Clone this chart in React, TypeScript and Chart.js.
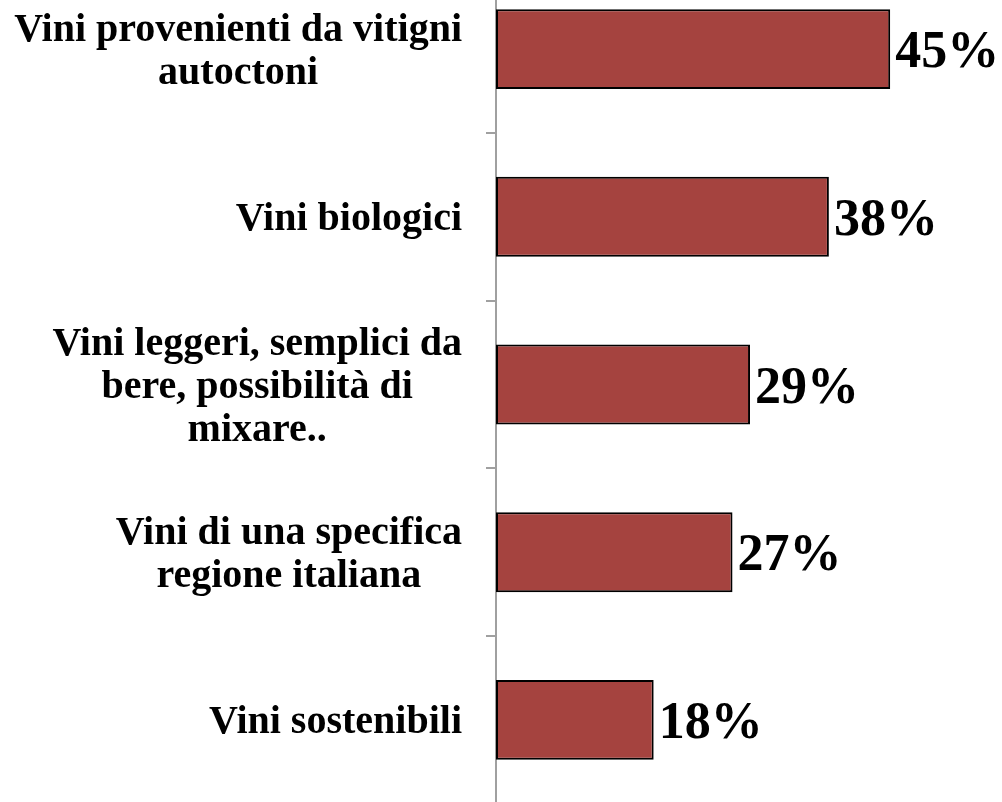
import React, { useEffect, useRef } from "react";
import { Chart, registerables } from "chart.js";

Chart.register(...registerables);

const categoryLines: string[][] = [
  ["Vini provenienti da vitigni", "autoctoni"],
  ["Vini biologici"],
  ["Vini leggeri, semplici da", "bere, possibilità di", "mixare.."],
  ["Vini di una specifica", "regione italiana"],
  ["Vini sostenibili"],
];
const categories: string[] = categoryLines.map((l) => l.join(" "));
const values: number[] = [45, 38, 29, 27, 18];
const valueLabels: string[] = ["45%", "38%", "29%", "27%", "18%"];

const FONT = '"Liberation Serif", "Times New Roman", serif';

const labelPlugin = {
  id: "customLabels",
  afterDraw(chart: any) {
    const ctx = chart.ctx;
    const yScale = chart.scales.y;
    const meta = chart.getDatasetMeta(0);
    ctx.save();
    ctx.fillStyle = "#000";
    ctx.font = `bold 40px ${FONT}`;
    ctx.textBaseline = "alphabetic";
    ctx.textAlign = "center";
    categoryLines.forEach((lines, i) => {
      const cy = yScale.getPixelForValue(i);
      const maxW = Math.max(...lines.map((t) => ctx.measureText(t).width));
      const right = yScale.right - 34;
      const cx = right - maxW / 2;
      const n = lines.length;
      lines.forEach((t, j) => {
        ctx.fillText(t, cx, cy + 13 + (j - (n - 1) / 2) * 43);
      });
    });
    ctx.font = `bold 52px ${FONT}`;
    ctx.textAlign = "left";
    meta.data.forEach((bar: any, i: number) => {
      ctx.fillText(valueLabels[i], bar.x + 5, bar.y + 18);
    });
    ctx.restore();
  },
};

export default function App() {
  const ref = useRef<HTMLCanvasElement | null>(null);
  useEffect(() => {
    if (!ref.current) return;
    const chart = new Chart(ref.current, {
      type: "bar",
      data: {
        labels: categories,
        datasets: [
          {
            data: values,
            backgroundColor: "#A5433F",
            borderColor: "#000000",
            borderWidth: 2,
            borderSkipped: false,
            categoryPercentage: 1,
            barPercentage: 0.476,
          },
        ],
      },
      options: {
        indexAxis: "y",
        animation: false,
        responsive: false,
        layout: { padding: { left: 0, right: 68, top: 0, bottom: 0 } },
        plugins: { legend: { display: false }, tooltip: { enabled: false } },
        scales: {
          x: {
            display: false,
            min: 0,
            max: 50,
          },
          y: {
            grid: {
              offset: true,
              drawOnChartArea: false,
              drawTicks: true,
              tickLength: 10,
              color: "#A0A0A0",
              lineWidth: 2,
            },
            border: { display: true, color: "#A0A0A0", width: 2 },
            ticks: { callback: () => "", padding: 0 },
            afterFit: (scale: any) => {
              scale.width = 496;
            },
          },
        },
      },
      plugins: [labelPlugin],
    });
    return () => chart.destroy();
  }, []);
  return (
    <div style={{ position: "fixed", left: 0, top: -42, width: 1002, height: 853, background: "#fff" }}>
      <canvas ref={ref} width={1002} height={853} style={{ display: "block" }} />
    </div>
  );
}
